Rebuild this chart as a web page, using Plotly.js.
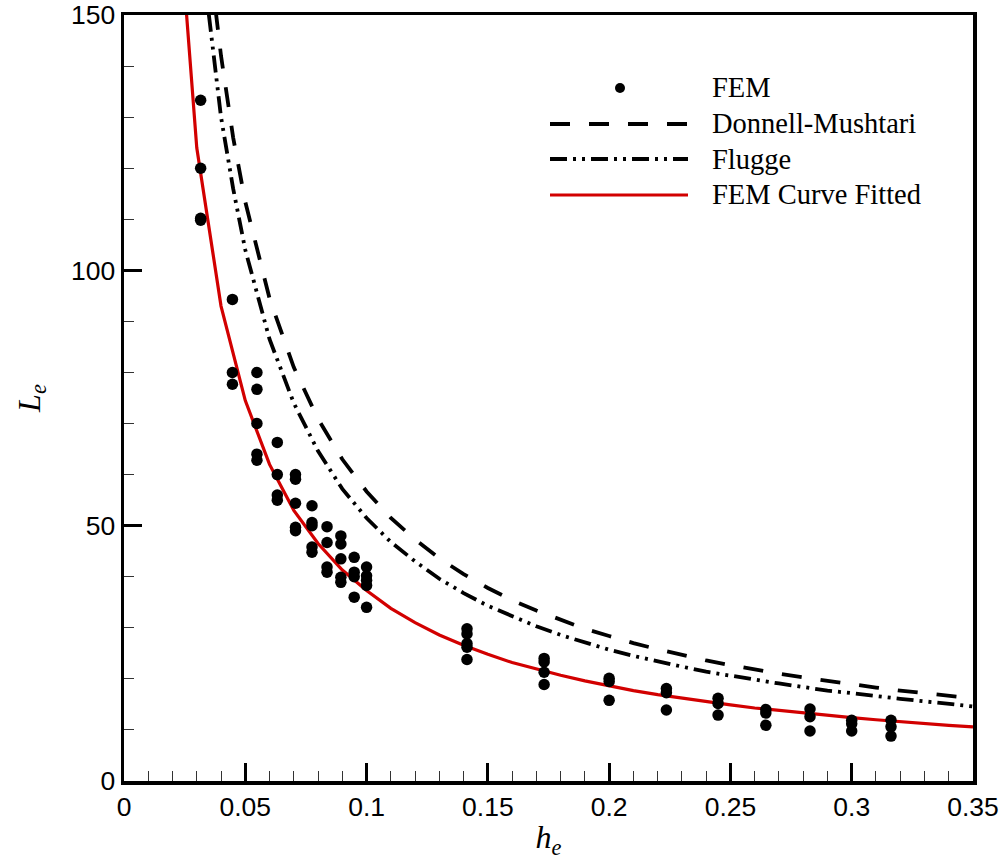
<!DOCTYPE html>
<html>
<head>
<meta charset="utf-8">
<script src="https://cdn.plot.ly/plotly-3.0.1.min.js"></script>
<style>
html,body{margin:0;padding:0;background:#fff;}
#chart{width:1006px;height:860px;}
</style>
</head>
<body>
<div id="chart"></div>
<script>
// FEM data (h_e, L_e)
const femH = [
  0.0316,0.0316,0.0316,0.0316,
  0.0447,0.0447,0.0447,
  0.0548,0.0548,0.0548,0.0548,0.0548,
  0.0632,0.0632,0.0632,0.0632,
  0.0707,0.0707,0.0707,0.0707,0.0707,
  0.0775,0.0775,0.0775,0.0775,0.0775,
  0.0837,0.0837,0.0837,0.0837,
  0.0894,0.0894,0.0894,0.0894,0.0894,
  0.0949,0.0949,0.0949,0.0949,
  0.1,0.1,0.1,0.1,0.1,
  0.1414,0.1414,0.1414,0.1414,0.1414,
  0.1732,0.1732,0.1732,0.1732,
  0.2,0.2,0.2,
  0.2236,0.2236,0.2236,
  0.2449,0.2449,0.2449,
  0.2646,0.2646,0.2646,
  0.2828,0.2828,0.2828,
  0.3,0.3,0.3,
  0.3162,0.3162,0.3162
];
const femL = [
  133.3,120,110.2,109.8,
  94.3,80,77.7,
  80,76.7,70,64,62.8,
  66.3,60,56,55,
  60,59.1,54.4,49.7,49,
  53.9,50.6,50,45.8,44.8,
  49.8,46.7,41.9,40.9,
  48,46.4,43.5,39.9,38.9,
  43.8,40.9,40,36,
  41.9,40.2,39.3,38.3,34,
  29.8,28.8,26.9,26.2,23.8,
  24,23.3,21.3,18.9,
  20.1,19.5,15.8,
  18.1,17.3,13.9,
  16.2,15.2,12.9,
  14,13.3,10.9,
  14.1,12.6,9.8,
  11.9,11.2,9.8,
  11.9,10.6,8.8
];

// Donnell-Mushtari theory curve
const dmH = [0.03,0.035,0.04,0.045,0.05,0.06,0.07,0.08,0.09,0.10,0.11,0.12,0.13,0.14,0.15,0.16,0.17,0.18,0.19,0.20,0.21,0.22,0.23,0.24,0.25,0.26,0.27,0.28,0.29,0.30,0.31,0.32,0.33,0.34,0.35];
const dmL = [189,162,142,126,113.4,94.5,81,70.9,63,56.7,51.5,47.3,43.6,40.5,37.8,35.4,33.4,31.5,29.8,28.4,27,25.8,24.7,23.6,22.7,21.8,21,20.3,19.6,18.9,18.3,17.7,17.2,16.7,16.2];

// Flugge theory curve
const flH = [0.03,0.035,0.04,0.045,0.05,0.06,0.07,0.08,0.09,0.10,0.11,0.12,0.13,0.14,0.15,0.16,0.17,0.18,0.19,0.20,0.21,0.22,0.23,0.24,0.25,0.26,0.27,0.28,0.29,0.30,0.31,0.32,0.33,0.34,0.35];
const flL = [174,150,130,116,104,86.5,74,64.6,57.2,51.5,46.8,43,39.6,36.8,34.3,32.2,30.3,28.6,27.1,25.7,24.5,23.4,22.4,21.4,20.6,19.8,19.1,18.4,17.7,17.2,16.6,16.1,15.6,15.1,14.6];

// FEM curve fitted
const fitH = [0.02,0.03,0.04,0.05,0.06,0.07,0.08,0.09,0.10,0.11,0.12,0.13,0.14,0.15,0.16,0.17,0.18,0.19,0.20,0.21,0.22,0.23,0.24,0.25,0.26,0.27,0.28,0.29,0.30,0.31,0.32,0.33,0.34,0.35];
const fitL = [186,124,93,74.5,62,53,46.5,41.3,37.3,33.8,31,28.6,26.6,24.8,23.2,21.9,20.7,19.6,18.6,17.7,16.9,16.2,15.5,14.9,14.3,13.8,13.3,12.8,12.4,12.0,11.6,11.3,10.9,10.6];

const legendNames = ["FEM","Donnell-Mushtari","Flugge","FEM Curve Fitted"];
const xTitle = "<i>h</i><sub><i>e</i></sub>";
const yTitle = "<i>L</i><sub><i>e</i></sub>";

const RED = "#d20000";
const DM_DASH = "20px,19px";
const FL_DASH = "17px,6px,3px,6px,3px,6px";

const traces = [
  {x: dmH, y: dmL, mode: "lines", name: legendNames[1],
   line: {color: "#000", width: 3.8, dash: DM_DASH}, showlegend: false},
  {x: flH, y: flL, mode: "lines", name: legendNames[2],
   line: {color: "#000", width: 3.8, dash: FL_DASH}, showlegend: false},
  {x: fitH, y: fitL, mode: "lines", name: legendNames[3],
   line: {color: RED, width: 3.2}, showlegend: false},
  {x: femH, y: femL, mode: "markers", name: legendNames[0],
   marker: {color: "#000", size: 11.5, line: {width: 0}}, showlegend: false}
];

// manual legend (long line samples as in the reference)
const TOP = 15, W = 849, L0 = 124, B0 = 781, H = B0 - TOP;
const px = v => (v - L0) / W;
const py = v => (B0 - v) / H;
const rows = [88, 124, 159, 195];
const lx0 = 550, lx1 = 688, tx = 710;
const shapes = [
  {type: "circle", xref: "paper", yref: "paper",
   x0: px(615), x1: px(625), y0: py(rows[0] + 5), y1: py(rows[0] - 5),
   fillcolor: "#000", line: {width: 0}},
  {type: "line", xref: "paper", yref: "paper", x0: px(lx0), x1: px(lx1), y0: py(rows[1]), y1: py(rows[1]),
   line: {color: "#000", width: 3.8, dash: DM_DASH}},
  {type: "line", xref: "paper", yref: "paper", x0: px(lx0), x1: px(lx1), y0: py(rows[2]), y1: py(rows[2]),
   line: {color: "#000", width: 3.8, dash: FL_DASH}},
  {type: "line", xref: "paper", yref: "paper", x0: px(lx0), x1: px(lx1), y0: py(rows[3]), y1: py(rows[3]),
   line: {color: RED, width: 3.2}}
];
const annotations = legendNames.map((t, i) => ({
  xref: "paper", yref: "paper", x: px(tx), y: py(rows[i]),
  xanchor: "left", yanchor: "middle", text: t, showarrow: false,
  font: {family: "Liberation Serif, Times New Roman, serif", size: 28.5, color: "#000"}
}));

const tickFont = {family: "Liberation Sans, Arial, sans-serif", size: 26.5, color: "#000"};
const layout = {
  width: 1006, height: 860,
  margin: {l: 124, r: 33, t: TOP, b: 860 - B0, pad: 0},
  paper_bgcolor: "#fff", plot_bgcolor: "#fff",
  showlegend: false,
  xaxis: {
    range: [0, 0.35], dtick: 0.05, tick0: 0,
    ticks: "inside", ticklen: 18, tickwidth: 3, tickcolor: "#000",
    showline: true, linewidth: 3.5, linecolor: "#000", mirror: true,
    showgrid: false, zeroline: false, ticklabeloverflow: "allow",
    minor: {dtick: 0.01, ticks: "inside", ticklen: 10, tickwidth: 1, tickcolor: "#333", showgrid: false},
    tickfont: tickFont,
    title: {text: xTitle, standoff: 8,
      font: {family: "Liberation Serif, Times New Roman, serif", size: 32, color: "#000"}}
  },
  yaxis: {
    range: [0, 150], dtick: 50, tick0: 0,
    ticks: "inside", ticklen: 18, tickwidth: 3, tickcolor: "#000",
    showline: true, linewidth: 3.5, linecolor: "#000", mirror: true,
    showgrid: false, zeroline: false, ticklabeloverflow: "allow",
    minor: {dtick: 10, ticks: "inside", ticklen: 10, tickwidth: 1, tickcolor: "#333", showgrid: false},
    tickfont: tickFont,
    title: {text: yTitle, standoff: 22,
      font: {family: "Liberation Serif, Times New Roman, serif", size: 32, color: "#000"}}
  },
  shapes: shapes,
  annotations: annotations
};

Plotly.newPlot("chart", traces, layout, {displayModeBar: false, staticPlot: true});
</script>
</body>
</html>
